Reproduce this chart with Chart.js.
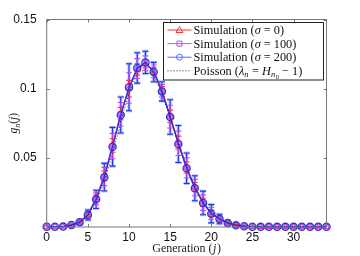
<!DOCTYPE html>
<html>
<head>
<meta charset="utf-8">
<script src="https://cdn.jsdelivr.net/npm/chart.js@4"></script>
<style>
  html, body { margin: 0; padding: 0; background: #fff; }
  #wrap { width: 360px; height: 256px; }
</style>
</head>
<body>
<div id="wrap"><canvas id="genChart" width="360" height="256"></canvas></div>
<script>
// --- Data ---
const generations = [0,1,2,3,4,5,6,7,8,9,10,11,12,13,14,15,16,17,18,19,20,21,22,23,24,25,26,27,28,29,30,31,32,33,34];

const sim0 = [0.0001,0.0002,0.0004,0.0015,0.0036,0.0090,0.0210,0.0370,0.0590,0.0820,0.1000,0.1140,0.1180,0.1130,0.0990,0.0800,0.0610,0.0430,0.0290,0.0178,0.0099,0.0060,0.0030,0.0013,0.0006,0.0002,0.0001,0.0001,0.0001,0.0001,0.0001,0.0001,0.0001,0.0001,0.0001];
const sim100 = [0.0001,0.0002,0.0003,0.0014,0.0035,0.0088,0.0205,0.0365,0.0585,0.0815,0.1005,0.1145,0.1185,0.1125,0.0985,0.0798,0.0605,0.0428,0.0285,0.0176,0.0098,0.0059,0.0029,0.0012,0.0005,0.0002,0.0001,0.0001,0.0001,0.0001,0.0001,0.0001,0.0001,0.0001,0.0001];
const sim200 = [0.0002,0.0002,0.0003,0.0014,0.0034,0.0087,0.0200,0.0360,0.0580,0.0810,0.1010,0.1150,0.1190,0.1120,0.0980,0.0795,0.0600,0.0425,0.0280,0.0174,0.0096,0.0058,0.0029,0.0012,0.0005,0.0002,0.0001,0.0001,0.0001,0.0001,0.0001,0.0001,0.0001,0.0001,0.0001];
const poisson = [0.0000,0.0001,0.0004,0.0013,0.0032,0.0080,0.0180,0.0330,0.0530,0.0760,0.0970,0.1110,0.1140,0.1090,0.0970,0.0800,0.0610,0.0440,0.0290,0.0180,0.0110,0.0060,0.0030,0.0015,0.0007,0.0003,0.0001,0.0000,0.0000,0.0000,0.0000,0.0000,0.0000,0.0000,0.0000];

const err0 = [0,0,0,0.0002,0.0005,0.0013,0.0023,0.0035,0.0050,0.0045,0.0060,0.0040,0.0030,0.0025,0.0025,0.0045,0.0047,0.0040,0.0032,0.0030,0.0023,0.0012,0.0005,0.0003,0.0001,0,0,0,0,0,0,0,0,0,0];
const err100 = [0,0,0,0.0004,0.0010,0.0024,0.0043,0.0066,0.0092,0.0085,0.0110,0.0072,0.0052,0.0046,0.0046,0.0082,0.0088,0.0072,0.0059,0.0056,0.0043,0.0022,0.0010,0.0005,0.0003,0,0,0,0,0,0,0,0,0,0];
const err200 = [0,0,0,0.0006,0.0015,0.0036,0.0066,0.0100,0.0140,0.0130,0.0170,0.0110,0.0080,0.0070,0.0070,0.0125,0.0134,0.0110,0.0090,0.0085,0.0066,0.0034,0.0015,0.0008,0.0004,0,0,0,0,0,0,0,0,0,0];

const xTicks = [0,5,10,15,20,25,30];
const yTicks = [0.05,0.1,0.15];

const legendRows = [
    { color: '#ff3030', marker: 'triangle', parts: [['Simulation (', ''], ['σ', 'i'], [' = 0)', '']] },
    { color: '#c050ff', marker: 'rect', parts: [['Simulation (', ''], ['σ', 'i'], [' = 100)', '']] },
    { color: '#5070ff', marker: 'circle', parts: [['Simulation (', ''], ['σ', 'i'], [' = 200)', '']] },
    { color: '#222', marker: 'dots', parts: [['Poisson (', ''], ['λ', 'i'], ['n', 'si'], [' = ', ''], ['H', 'i'], ['n', 'si'], ['0', 'ss'], [' − 1)', '']] }
];

const SERIF = '"Liberation Serif", "DejaVu Serif", serif';
const SANS = '"Liberation Sans", Arial, sans-serif';

function toPoints(ys) {
    return generations.map((g, i) => ({ x: g, y: ys[i] }));
}

// --- Error bars, frame, inward ticks and legend ---
const extras = {
    id: 'extras',
    beforeDatasetsDraw(chart) {
        const ctx = chart.ctx;
        const xs = chart.scales.x, ys = chart.scales.y;
        const sets = [
            { vals: sim0, err: err0, color: 'rgba(255,40,60,0.9)', halo: null },
            { vals: sim100, err: err100, color: 'rgba(200,60,255,0.9)', halo: null },
            { vals: sim200, err: err200, color: '#2233dd', halo: 'rgba(110,140,255,0.55)' }
        ];
        ctx.save();
        sets.slice().reverse().forEach(s => {
            generations.forEach((g, i) => {
                if (!s.err[i]) return;
                const px = xs.getPixelForValue(g);
                const top = ys.getPixelForValue(s.vals[i] + s.err[i]);
                const bot = ys.getPixelForValue(s.vals[i] - s.err[i]);
                const drawBar = (w, col) => {
                    ctx.strokeStyle = col;
                    ctx.lineWidth = w;
                    ctx.beginPath();
                    ctx.moveTo(px, top); ctx.lineTo(px, bot);
                    ctx.moveTo(px - 3, top); ctx.lineTo(px + 3, top);
                    ctx.moveTo(px - 3, bot); ctx.lineTo(px + 3, bot);
                    ctx.stroke();
                };
                if (s.halo) drawBar(3, s.halo);
                drawBar(1.1, s.color);
            });
        });
        ctx.restore();
    },
    afterDraw(chart) {
        const ctx = chart.ctx;
        const a = chart.chartArea;
        const xs = chart.scales.x, ys = chart.scales.y;
        ctx.save();
        ctx.strokeStyle = '#777';
        ctx.lineWidth = 1;
        ctx.strokeRect(a.left, a.top, a.right - a.left, a.bottom - a.top);
        ctx.beginPath();
        xTicks.forEach(t => {
            const px = Math.round(xs.getPixelForValue(t)) + 0.5;
            ctx.moveTo(px, a.bottom); ctx.lineTo(px, a.bottom - 3);
            ctx.moveTo(px, a.top); ctx.lineTo(px, a.top + 3);
        });
        yTicks.forEach(t => {
            const py = Math.round(ys.getPixelForValue(t)) + 0.5;
            ctx.moveTo(a.left, py); ctx.lineTo(a.left + 3, py);
            ctx.moveTo(a.right, py); ctx.lineTo(a.right - 3, py);
        });
        ctx.stroke();

        // legend
        const lx = 163.5, ly = 22.5, lw = 160, lh = 57.5;
        ctx.fillStyle = '#fff';
        ctx.fillRect(lx, ly, lw, lh);
        ctx.strokeStyle = '#222';
        ctx.strokeRect(lx, ly, lw, lh);
        legendRows.forEach((row, r) => {
            const cy = ly + 7.5 + r * 13.6;
            ctx.strokeStyle = row.color;
            ctx.fillStyle = row.color;
            ctx.lineWidth = 1;
            if (row.marker === 'dots') {
                ctx.setLineDash([1, 2]);
            }
            ctx.beginPath();
            ctx.moveTo(lx + 4, cy); ctx.lineTo(lx + 28, cy);
            ctx.stroke();
            ctx.setLineDash([]);
            const mx = lx + 16;
            ctx.beginPath();
            if (row.marker === 'triangle') {
                ctx.moveTo(mx, cy - 3.5); ctx.lineTo(mx + 3.5, cy + 2.5); ctx.lineTo(mx - 3.5, cy + 2.5); ctx.closePath();
                ctx.stroke();
            } else if (row.marker === 'rect') {
                ctx.rect(mx - 2.5, cy - 2.5, 5, 5);
                ctx.stroke();
            } else if (row.marker === 'circle') {
                ctx.arc(mx, cy, 3, 0, Math.PI * 2);
                ctx.stroke();
            }
            let tx = lx + 30;
            ctx.fillStyle = '#111';
            ctx.textBaseline = 'alphabetic';
            row.parts.forEach(([txt, st]) => {
                let size = 12.3, dy = 4.2, style = '';
                if (st === 'i') style = 'italic ';
                if (st === 'si') { style = 'italic '; size = 8.5; dy = 6.5; }
                if (st === 'ss') { size = 6.5; dy = 8.5; }
                ctx.font = style + size + 'px ' + SERIF;
                ctx.fillText(txt, tx, cy + dy);
                tx += ctx.measureText(txt).width + (st === 'si' ? 0.5 : 0);
            });
        });

        // axis titles
        ctx.fillStyle = '#222';
        const xl = 'Generation (', xr = ')';
        ctx.font = 'italic 12px ' + SERIF;
        const wj = ctx.measureText('j').width + 1;
        ctx.font = '12px ' + SERIF;
        const wl = ctx.measureText(xl).width, wr = ctx.measureText(xr).width;
        const total = wl + wj + wr;
        let sx = (a.left + a.right) / 2 - total / 2;
        ctx.textAlign = 'left';
        ctx.fillText(xl, sx, 252);
        ctx.font = 'italic 12px ' + SERIF;
        ctx.fillText('j', sx + wl + 0.5, 252);
        ctx.font = '12px ' + SERIF;
        ctx.fillText(xr, sx + wl + wj, 252);

        ctx.translate(17, (a.top + a.bottom) / 2);
        ctx.rotate(-Math.PI / 2);
        const yParts = [['g', 'italic 11.5px', 0], ['n', 'italic 8px', 3], ['(', '11.5px', 0], ['j', 'italic 11.5px', 0], [')', '11.5px', 0]];
        let w = 0;
        yParts.forEach(p => { ctx.font = p[1] + ' ' + SERIF; w += ctx.measureText(p[0]).width; });
        let yx = -w / 2;
        yParts.forEach(p => {
            ctx.font = p[1] + ' ' + SERIF;
            ctx.fillText(p[0], yx, p[2]);
            yx += ctx.measureText(p[0]).width;
        });
        ctx.restore();
    }
};

const ctx = document.getElementById('genChart').getContext('2d');
new Chart(ctx, {
    type: 'scatter',
    data: {
        datasets: [
            {
                label: 'Poisson',
                data: toPoints(poisson),
                showLine: true,
                borderColor: '#222',
                borderWidth: 1,
                borderDash: [1, 2],
                pointRadius: 0,
                order: 0
            },
            {
                label: 'Simulation (σ = 0)',
                data: toPoints(sim0),
                showLine: true,
                borderColor: '#ff3030',
                borderWidth: 1.2,
                pointStyle: 'triangle',
                pointRadius: 3.5,
                pointBorderWidth: 1,
                pointBackgroundColor: 'rgba(0,0,0,0)',
                pointBorderColor: '#ff3030',
                clip: false,
                order: 3
            },
            {
                label: 'Simulation (σ = 100)',
                data: toPoints(sim100),
                showLine: true,
                borderColor: '#c050ff',
                borderWidth: 1.2,
                pointStyle: 'rect',
                pointRadius: 3,
                pointBorderWidth: 1,
                pointBackgroundColor: 'rgba(0,0,0,0)',
                pointBorderColor: '#c050ff',
                clip: false,
                order: 2
            },
            {
                label: 'Simulation (σ = 200)',
                data: toPoints(sim200),
                showLine: true,
                borderColor: '#2a35e0',
                borderWidth: 1.3,
                pointStyle: 'circle',
                pointRadius: 3.6,
                pointBorderWidth: 1.3,
                pointBackgroundColor: 'rgba(0,0,0,0)',
                pointBorderColor: '#2a35e0',
                clip: false,
                order: 1
            }
        ]
    },
    options: {
        responsive: false,
        animation: false,
        layout: { padding: { left: 0, right: 33.5, top: 19.5, bottom: 0 } },
        plugins: { legend: { display: false }, tooltip: { enabled: false } },
        scales: {
            x: {
                type: 'linear',
                min: 0,
                max: 34,
                afterFit(scale) { scale.height = 29; },
                afterBuildTicks(scale) { scale.ticks = xTicks.map(v => ({ value: v })); },
                grid: { display: false, drawTicks: false, tickLength: 0 },
                border: { display: false },
                ticks: {
                    color: '#111',
                    padding: 3,
                    font: { family: SANS, size: 12 }
                }
            },
            y: {
                type: 'linear',
                min: 0,
                max: 0.15,
                afterFit(scale) { scale.width = 46.7; },
                afterBuildTicks(scale) { scale.ticks = yTicks.map(v => ({ value: v })); },
                grid: { display: false },
                border: { display: false },
                ticks: {
                    color: '#111',
                    padding: 2,
                    font: { family: SANS, size: 12 },
                    callback: v => String(v)
                }
            }
        }
    },
    plugins: [extras]
});
</script>
</body>
</html>
